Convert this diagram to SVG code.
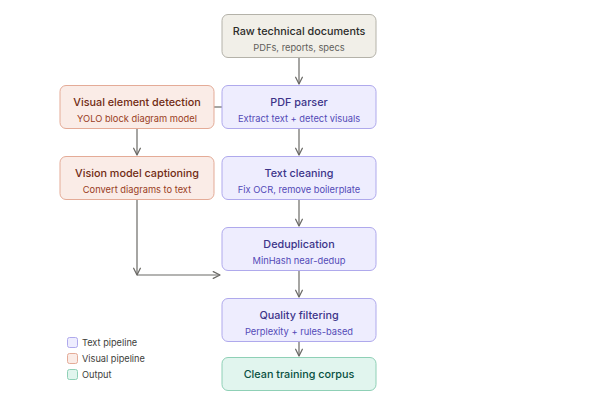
<svg xmlns="http://www.w3.org/2000/svg" width="600" height="400" viewBox="0 0 600 400">
<defs>
<style>
.t{font-family:"Inter","Liberation Sans",Arial,sans-serif;font-size:10.8px;font-weight:500;text-anchor:middle;dominant-baseline:central}
.s{font-family:"Inter","Liberation Sans",Arial,sans-serif;font-size:9.3px;text-anchor:middle;dominant-baseline:central}
.l{font-family:"Inter","Liberation Sans",Arial,sans-serif;font-size:9.2px;fill:#3d3d3a;dominant-baseline:central}
.gray rect{fill:#f1efe8;stroke:#b4b2a9}
.gray .t{fill:#2c2c2a}.gray .s{fill:#5f5e5a}
.pur rect{fill:#eeedfe;stroke:#afa9ec}
.pur .t{fill:#3c3489}.pur .s{fill:#534ab7}
.org rect{fill:#faece7;stroke:#e4ab97}
.org .t{fill:#712b13}.org .s{fill:#993c1d}
.grn rect{fill:#e1f5ee;stroke:#8fd0b6}
.grn .t{fill:#085041}
.c{stroke:#6b6a66;stroke-width:1.2;fill:none}
</style>
<marker id="a" viewBox="0 0 10 10" refX="9" refY="5" markerWidth="7" markerHeight="7" orient="auto-start-reverse">
<path d="M1 1L9 5L1 9" fill="none" stroke="#6b6a66" stroke-width="1.5" stroke-linecap="round" stroke-linejoin="round"/>
</marker>
</defs>
<rect width="600" height="400" fill="#fff"/>
<g id="connectors">
<line class="c" x1="299" y1="57" x2="299" y2="84" marker-end="url(#a)"/>
<line class="c" x1="214" y1="107" x2="222" y2="107"/>
<line class="c" x1="137" y1="128" x2="137" y2="155" marker-end="url(#a)"/>
<line class="c" x1="299" y1="128" x2="299" y2="155" marker-end="url(#a)"/>
<line class="c" x1="299" y1="199" x2="299" y2="226" marker-end="url(#a)"/>
<line class="c" x1="137" y1="199" x2="137" y2="275" marker-end="url(#a)"/>
<line class="c" x1="137" y1="275" x2="220" y2="275" marker-end="url(#a)"/>
<line class="c" x1="299" y1="270" x2="299" y2="297" marker-end="url(#a)"/>
<line class="c" x1="299" y1="342" x2="299" y2="356" marker-end="url(#a)"/>
</g>
<g id="raw" class="gray"><rect x="222" y="14.5" width="154" height="43" rx="6"/><text class="t" x="299" y="31">Raw technical documents</text><text class="s" x="299" y="47">PDFs, reports, specs</text></g>
<g id="pdf" class="pur"><rect x="222" y="85.5" width="154" height="43" rx="6"/><text class="t" x="299" y="102">PDF parser</text><text class="s" x="299" y="118">Extract text + detect visuals</text></g>
<g id="ved" class="org"><rect x="60" y="85.5" width="154" height="43" rx="6"/><text class="t" x="137" y="102">Visual element detection</text><text class="s" x="137" y="118">YOLO block diagram model</text></g>
<g id="vmc" class="org"><rect x="60" y="156.5" width="154" height="43" rx="6"/><text class="t" x="137" y="173">Vision model captioning</text><text class="s" x="137" y="189">Convert diagrams to text</text></g>
<g id="tc" class="pur"><rect x="222" y="156.5" width="154" height="43" rx="6"/><text class="t" x="299" y="173">Text cleaning</text><text class="s" x="299" y="189">Fix OCR, remove boilerplate</text></g>
<g id="dd" class="pur"><rect x="222" y="227.5" width="154" height="43" rx="6"/><text class="t" x="299" y="244">Deduplication</text><text class="s" x="299" y="260">MinHash near-dedup</text></g>
<g id="qf" class="pur"><rect x="222" y="298.5" width="154" height="43" rx="6"/><text class="t" x="299" y="315">Quality filtering</text><text class="s" x="299" y="331">Perplexity + rules-based</text></g>
<g id="out" class="grn"><rect x="222" y="357.5" width="154" height="33" rx="6"/><text class="t" x="299" y="374">Clean training corpus</text></g>
<g id="legend">
<rect x="67.5" y="337.5" width="10" height="10" rx="2" fill="#eeedfe" stroke="#afa9ec"/>
<text class="l" x="82" y="342.5">Text pipeline</text>
<rect x="67.5" y="353.5" width="10" height="10" rx="2" fill="#faece7" stroke="#e4ab97"/>
<text class="l" x="82" y="358.5">Visual pipeline</text>
<rect x="67.5" y="369.5" width="10" height="10" rx="2" fill="#e1f5ee" stroke="#8fd0b6"/>
<text class="l" x="82" y="374.5">Output</text>
</g>
</svg>
